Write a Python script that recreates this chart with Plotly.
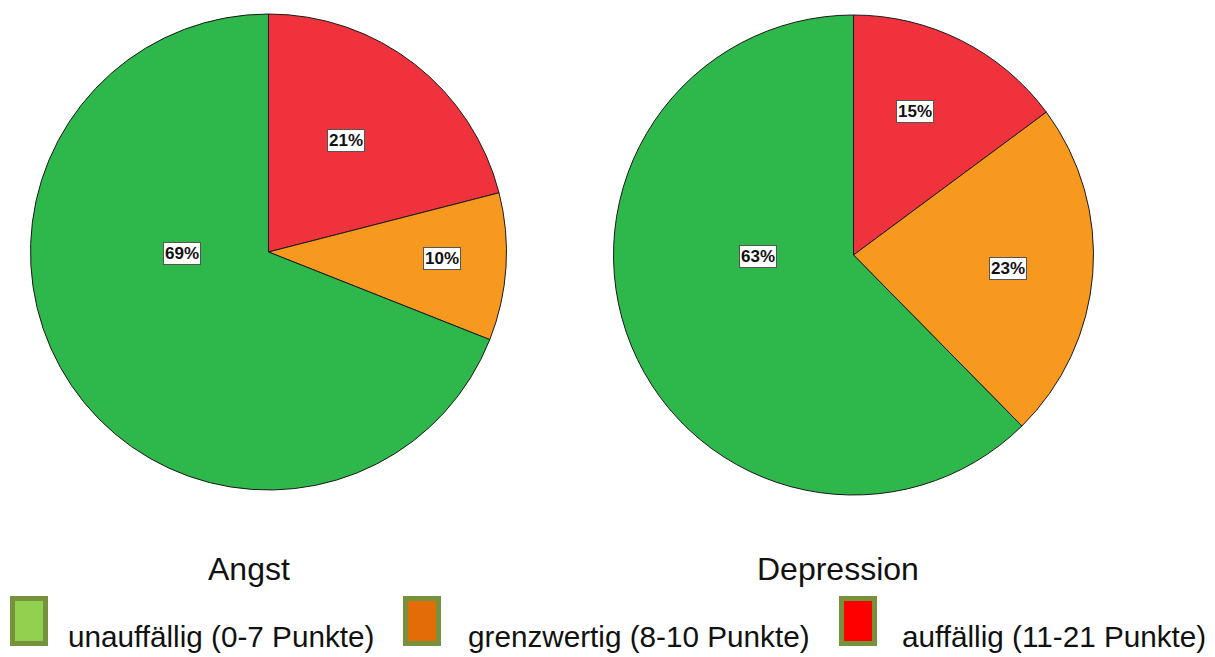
import plotly.graph_objects as go

# HADS categories (slice order: clockwise from 12 o'clock)
categories = ["auffällig (11-21 Punkte)", "grenzwertig (8-10 Punkte)", "unauffällig (0-7 Punkte)"]
angst_pct = [21, 10, 69]
depression_pct = [15, 23, 63]
panel_titles = ["Angst", "Depression"]

# legend entries, left to right
legend_labels = ["unauffällig (0-7 Punkte)", "grenzwertig (8-10 Punkte)", "auffällig (11-21 Punkte)"]

slice_colors = ["#ef323c", "#f7991f", "#2eb84b"]
legend_fills = ["#92d050", "#e36c09", "#ff0000"]
legend_border = "#76923c"

W, H = 1215, 657


def px(x):
    return x / W


def py(y):
    return 1 - y / H


fig = go.Figure()

# pie geometry in pixels: (center x, center y, radius)
pie_geom = [(268.5, 252, 238), (853.5, 255, 240)]
for vals, (cx, cy, r) in zip([angst_pct, depression_pct], pie_geom):
    fig.add_trace(go.Pie(
        labels=categories,
        values=vals,
        sort=False,
        direction="clockwise",
        rotation=0,
        marker=dict(colors=slice_colors, line=dict(color="#1a1a1a", width=1)),
        textinfo="none",
        hoverinfo="label+value",
        showlegend=False,
        domain=dict(x=[px(cx - r), px(cx + r)], y=[py(cy + r), py(cy - r)]),
    ))

annotations = []

# percentage labels in white boxes
label_pos = [
    [(345.5, 140.5), (442, 258), (182, 253)],
    [(914.5, 111.5), (1008, 268), (758, 256)],
]
for vals, positions in zip([angst_pct, depression_pct], label_pos):
    for v, (x, y) in zip(vals, positions):
        annotations.append(dict(
            x=px(x), y=py(y), xref="paper", yref="paper",
            text=f"<b>{v}%</b>", showarrow=False,
            font=dict(family="Liberation Sans, Arial", size=17, color="#111"),
            bgcolor="white", bordercolor="#555", borderwidth=1, borderpad=1,
            xanchor="center", yanchor="middle",
        ))

# panel titles under each pie
for title, cx in zip(panel_titles, [249, 838]):
    annotations.append(dict(
        x=px(cx), y=py(569), xref="paper", yref="paper",
        text=title, showarrow=False,
        font=dict(family="Liberation Sans, Arial", size=32, color="#111"),
        xanchor="center", yanchor="middle",
    ))

# custom legend: framed swatches followed by labels
shapes = []
swatch_x = [10, 403, 839]
text_x = [66, 466, 900]
for lab, fill, sx, tx in zip(legend_labels, legend_fills, swatch_x, text_x):
    shapes.append(dict(
        type="rect", xref="paper", yref="paper",
        x0=px(sx + 2.5), x1=px(sx + 35.5), y0=py(643.5), y1=py(598.5),
        fillcolor=fill, line=dict(color=legend_border, width=5),
    ))
    annotations.append(dict(
        x=px(tx), y=py(636), xref="paper", yref="paper",
        text=lab, showarrow=False,
        font=dict(family="Liberation Sans, Arial", size=29.7, color="#111"),
        xanchor="left", yanchor="middle",
    ))

fig.update_layout(
    width=W, height=H,
    margin=dict(l=0, r=0, t=0, b=0),
    paper_bgcolor="white", plot_bgcolor="white",
    annotations=annotations, shapes=shapes,
)

fig.write_html("out.html")
